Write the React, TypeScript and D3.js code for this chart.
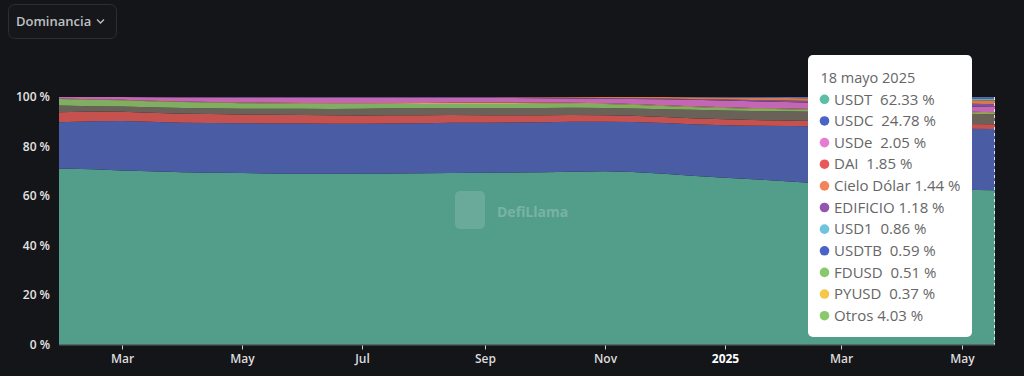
import React from "react";
import * as d3 from "d3";

const dates = [
  "2024-01-29","2024-02-15","2024-03-01","2024-03-15","2024-04-01","2024-04-15","2024-05-01","2024-05-15",
  "2024-06-01","2024-06-15","2024-07-01","2024-07-15","2024-08-01","2024-08-15","2024-09-01","2024-09-15",
  "2024-10-01","2024-10-15","2024-11-01","2024-11-15","2024-12-01","2024-12-15","2025-01-01","2025-01-15",
  "2025-02-01","2025-02-15","2025-03-01","2025-03-15","2025-04-01","2025-04-15","2025-05-01","2025-05-18",
];

const USDT = [71.1,70.8,70.3,70.0,69.6,69.4,69.3,69.1,69.0,69.0,69.1,69.1,69.2,69.3,69.4,69.5,69.6,69.8,70.0,69.7,69.0,68.2,67.4,66.8,66.0,65.3,64.6,63.9,63.3,62.8,62.5,62.33];
const USDC = [18.7,19.4,20.0,20.0,20.0,20.1,20.1,20.2,20.3,20.2,20.1,20.2,20.2,20.3,20.2,20.2,20.2,20.2,20.0,20.2,20.5,20.8,21.2,21.6,22.3,22.9,23.4,23.9,24.3,24.6,24.7,24.78];
const DAI = [4.0,3.9,3.7,3.6,3.6,3.6,3.5,3.5,3.4,3.4,3.3,3.3,3.2,3.1,3.0,2.9,2.8,2.7,2.6,2.5,2.4,2.4,2.4,2.3,2.2,2.1,2.1,2.0,2.0,1.9,1.9,1.85];
const OTROS = [2.8,2.2,2.2,2.3,2.4,2.4,2.4,2.5,2.6,2.6,2.8,2.9,2.9,2.9,3.0,3.0,3.0,3.0,3.0,3.0,3.2,3.4,3.5,3.6,3.7,3.7,3.8,4.0,4.1,4.1,4.1,4.03];
const FDUSD = [2.6,2.6,2.5,2.4,2.4,2.3,2.2,2.1,2.0,2.0,1.9,1.8,1.7,1.6,1.6,1.6,1.7,1.6,1.6,1.5,1.3,1.2,1.1,1.0,0.9,0.8,0.7,0.7,0.6,0.6,0.5,0.51];
const PYUSD = [0.2,0.2,0.2,0.2,0.2,0.2,0.3,0.3,0.3,0.3,0.3,0.3,0.4,0.5,0.6,0.6,0.5,0.4,0.3,0.3,0.3,0.3,0.3,0.3,0.3,0.4,0.4,0.4,0.4,0.4,0.4,0.37];
const USDE = [0.6,0.9,1.1,1.4,1.6,1.8,1.9,2.0,2.1,2.2,2.2,2.1,2.1,2.0,1.9,1.8,1.7,1.7,1.8,2.0,2.4,2.6,2.7,2.7,2.6,2.5,2.5,2.3,2.2,2.1,2.1,2.05];
const EDIFICIO = [0,0,0,0.1,0.2,0.2,0.3,0.3,0.3,0.3,0.3,0.3,0.3,0.3,0.3,0.3,0.3,0.3,0.3,0.3,0.3,0.3,0.4,0.5,0.6,0.7,0.8,0.9,1.0,1.1,1.2,1.18];
const CIELO = [0,0,0,0,0,0,0,0,0,0,0,0,0,0,0,0.1,0.2,0.3,0.4,0.5,0.6,0.7,0.8,0.9,1.0,1.1,1.2,1.3,1.3,1.4,1.4,1.44];
const USD1 = [0,0,0,0,0,0,0,0,0,0,0,0,0,0,0,0,0,0,0,0,0,0,0,0,0,0,0,0,0.2,0.4,0.6,0.86];
const USDTB = [0,0,0,0,0,0,0,0,0,0,0,0,0,0,0,0,0,0,0,0,0,0.1,0.2,0.3,0.4,0.5,0.5,0.6,0.6,0.6,0.6,0.59];

const stackKeys = ["USDT","USDC","DAI","Otros","FDUSD","PYUSD","USDe","EDIFICIO","Cielo Dólar","USD1","USDTB"];
const seriesValues: Record<string, number[]> = {
  USDT, USDC, DAI, Otros: OTROS, FDUSD, PYUSD, USDe: USDE, EDIFICIO, "Cielo Dólar": CIELO, USD1, USDTB,
};
const areaColors: Record<string, string> = {
  USDT: "#539d8b", USDC: "#4a5ca3", DAI: "#c65250", Otros: "#6a6158", FDUSD: "#80ae62",
  PYUSD: "#cfaa48", USDe: "#c366b4", EDIFICIO: "#82519b", "Cielo Dólar": "#d7794f",
  USD1: "#6aa8c2", USDTB: "#5a6aa6",
};

const tooltipDate = "18 mayo 2025";
const tooltipLabels = ["USDT  62.33 %","USDC  24.78 %","USDe  2.05 %","DAI  1.85 %","Cielo Dólar 1.44 %","EDIFICIO 1.18 %","USD1  0.86 %","USDTB  0.59 %","FDUSD  0.51 %","PYUSD  0.37 %","Otros 4.03 %"];
const tooltipColors = ["#5cbfa3","#4a63c8","#e57ccf","#e85a5a","#f3845a","#9455b2","#6ec3de","#4a63c8","#8ac96b","#f6c84a","#8ac96b"];

const yTicks = [0, 20, 40, 60, 80, 100];
const yTickLabels = ["0 %","20 %","40 %","60 %","80 %","100 %"];
const xTickDates = ["2024-03-01","2024-05-01","2024-07-01","2024-09-01","2024-11-01","2025-01-01","2025-03-01","2025-05-01"];
const xTickLabels = ["Mar","May","Jul","Sep","Nov","2025","Mar","May"];

const W = 1024, H = 376;
const left = 59, right = 995, top = 97, bottom = 344.5;
const font = "'Open Sans', 'Noto Sans', sans-serif";

export default function App() {
  const parse = d3.utcParse("%Y-%m-%d");
  const rows = dates.map((d, i) => {
    const r: any = { date: parse(d) };
    stackKeys.forEach((k) => (r[k] = seriesValues[k][i]));
    return r;
  });
  const x = d3.scaleUtc().domain([parse(dates[0])!, parse(dates[dates.length - 1])!]).range([left, right]);
  const y = d3.scaleLinear().domain([0, 100]).range([bottom, top]);
  const stack = d3.stack<any>().keys(stackKeys).offset(d3.stackOffsetExpand);
  const layers = stack(rows);
  const area = d3.area<any>()
    .x((d) => x(d.data.date))
    .y0((d) => y(d[0] * 100))
    .y1((d) => y(d[1] * 100))
    .curve(d3.curveLinear);

  const ttX = 808, ttY = 55, ttW = 164, ttH = 282;
  const rowY0 = 99.3, rowStep = 21.64;

  return (
    <svg width={W} height={H} style={{ position: "absolute", left: 0, top: 0, background: "#141519" }}>
      <rect x={0} y={0} width={W} height={H} fill="#141519" />
      {/* dropdown */}
      <rect x={8.5} y={4.5} width={108} height={34} rx={6} fill="#16171b" stroke="#2c2e33" />
      <text x={16} y={26} fontFamily={font} fontSize={13} fontWeight={600} fill="#bfc0c2">Dominancia</text>
      <path d="M97,19.5 L100.5,23 L104,19.5" fill="none" stroke="#bfc0c2" strokeWidth={1.3} />

      {/* areas */}
      {layers.map((l) => (
        <path key={l.key} d={area(l) || ""} fill={areaColors[l.key]} />
      ))}

      {/* watermark */}
      <g opacity={0.22}>
        <rect x={455} y={191} width={30} height={38} rx={5} fill="#ffffff" opacity={0.6} />
        <text x={497} y={217} fontFamily={font} fontSize={14} fontWeight={700} fill="#ffffff">DefiLlama</text>
      </g>

      {/* axis line */}
      <line x1={left} x2={right} y1={bottom + 0.5} y2={bottom + 0.5} stroke="#8a9a96" strokeOpacity={0.6} />

      {/* y axis */}
      {yTicks.map((t, i) => (
        <text key={t} x={50} y={y(t) + 4} textAnchor="end" fontFamily={font} fontSize={12} fontWeight={600} fill="#e4e4e4">
          {yTickLabels[i]}
        </text>
      ))}

      {/* x axis */}
      {xTickDates.map((d, i) => {
        const px = Math.round(x(parse(d)!)) + 0.5;
        return (
          <g key={d + i}>
            <line x1={px} x2={px} y1={bottom + 1} y2={bottom + 5} stroke="#cfcfcf" />
            <text x={px} y={363} textAnchor="middle" fontFamily={font} fontSize={12} fontWeight={xTickLabels[i] === "2025" ? 700 : 600} fill={xTickLabels[i] === "2025" ? "#ffffff" : "#dcdcdc"}>
              {xTickLabels[i]}
            </text>
          </g>
        );
      })}

      {/* hover line */}
      <line x1={right - 0.5} x2={right - 0.5} y1={top} y2={bottom} stroke="#ffffff" strokeOpacity={0.8} strokeDasharray="3,3" />

      {/* tooltip */}
      <rect x={ttX} y={ttY} width={ttW} height={ttH} rx={5} fill="#ffffff" />
      <text x={820.5} y={82.5} fontFamily={font} fontSize={14.5} fill="#666666">{tooltipDate}</text>
      {tooltipLabels.map((lab, i) => {
        const cy = rowY0 + i * rowStep;
        return (
          <g key={lab}>
            <circle cx={824.5} cy={cy} r={4.8} fill={tooltipColors[i]} />
            <text x={834} y={cy + 5.2} fontFamily={font} fontSize={15} fill="#666666" style={{ whiteSpace: "pre" }}>
              {lab}
            </text>
          </g>
        );
      })}
    </svg>
  );
}
